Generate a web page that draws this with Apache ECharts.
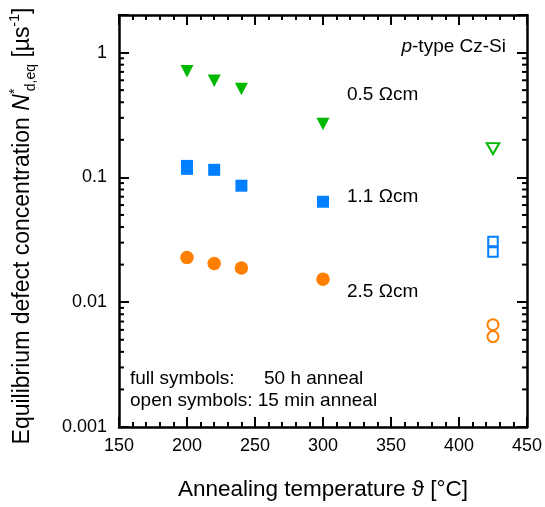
<!DOCTYPE html>
<html>
<head>
<meta charset="utf-8">
<script src="https://cdn.jsdelivr.net/npm/echarts@6/dist/echarts.min.js"></script>
<style>
  html, body { margin: 0; padding: 0; background: #fff; }
  #chart { width: 545px; height: 507px; }
</style>
</head>
<body>
<div id="chart"></div>
<script>
const FONT = '"Liberation Sans", Arial, Helvetica, sans-serif';

// Annealing temperatures [°C]
const tempsFull = [200, 220, 240, 300];
const tempsFull11 = [200, 200, 220, 240, 300];
const tempOpen = 425;

// Equilibrium defect concentration [1/µs], 50 h anneal (full) and 15 min anneal (open)
const full05 = [0.709, 0.595, 0.510, 0.268];
const open05 = [0.170];
const full11 = [0.1236, 0.117, 0.115, 0.0858, 0.0638];
const open11 = [0.0306, 0.0252];
const full25 = [0.0228, 0.0204, 0.0188, 0.0153];
const open25 = [0.0066, 0.0053];

// Axis ranges and tick marks
const xMin = 150, xMax = 450, xStep = 50;
const yMin = 0.001, yMax = 2;
const yDecades = [0.001, 0.01, 0.1, 1];
const minorMultipliers = [2, 3, 4, 5, 6, 7, 8, 9];

const GREEN = '#00b800';
const BLUE = '#0080ff';
const ORANGE = '#ff8000';
const BLACK = '#000';

// log-decade minor tick values inside the y range
const yMinorTicks = [];
yDecades.forEach(d => minorMultipliers.forEach(m => {
  const v = +(d * m).toPrecision(6);
  if (v < yMax) yMinorTicks.push(v);
}));

const pts = (xs, ys) => ys.map((y, i) => [Array.isArray(xs) ? xs[i] : xs, y]);

const axisLine = { show: true, onZero: false, lineStyle: { color: BLACK, width: 2.5 } };
const majorTick = { show: true, inside: true, length: 10, lineStyle: { color: BLACK, width: 2 } };

const xAxisBase = {
  type: 'value', min: xMin, max: xMax, interval: xStep,
  axisLine: axisLine,
  axisTick: majorTick,
  minorTick: { show: true, splitNumber: 5, length: 5, lineStyle: { color: BLACK, width: 2 } },
  splitLine: { show: false },
  minorSplitLine: { show: false }
};

const logLabel = v => {
  const e = Math.log10(v);
  if (Math.abs(e - Math.round(e)) > 1e-6) return '';
  return String(+Math.pow(10, Math.round(e)).toPrecision(6));
};

const yAxisBase = {
  type: 'log', logBase: 10, min: yMin, max: yMax,
  axisLine: axisLine,
  axisTick: majorTick,
  splitLine: { show: false }
};

const chart = echarts.init(document.getElementById('chart'), null, { renderer: 'canvas' });

chart.setOption({
  animation: false,
  backgroundColor: '#fff',
  grid: { left: 117, right: 14, top: 15, bottom: 80, containLabel: false },
  xAxis: [
    Object.assign({}, xAxisBase, {
      position: 'bottom',
      axisLabel: { color: BLACK, fontSize: 18, fontFamily: FONT, margin: 10 },
      name: 'Annealing temperature \u03D1 [°C]',
      nameLocation: 'middle',
      nameGap: 51,
      nameTextStyle: { color: BLACK, fontSize: 22.5, fontFamily: FONT }
    }),
    Object.assign({}, xAxisBase, { position: 'top', axisLabel: { show: false } })
  ],
  yAxis: [
    Object.assign({}, yAxisBase, {
      position: 'left',
      axisLabel: { color: BLACK, fontSize: 18, fontFamily: FONT, margin: 12, formatter: logLabel },
      name: '{t|Equilibrium defect concentration }{i|N}{s0|*}{sub|d,eq}{t| [µs}{sup|-1}{t|]}',
      nameLocation: 'middle',
      nameRotate: 90,
      nameGap: 81,
      nameTextStyle: {
        color: BLACK, fontSize: 23, fontFamily: FONT, padding: [0, 10, 0, 0],
        rich: {
          t: { fontSize: 23, fontFamily: FONT, color: BLACK, lineHeight: 30 },
          i: { fontSize: 23, fontFamily: FONT, color: BLACK, fontStyle: 'italic', lineHeight: 30 },
          s0: { fontSize: 14, fontFamily: FONT, color: BLACK, verticalAlign: 'top', width: 0, lineHeight: 16, padding: [0, 0, 0, 3] },
          sup: { fontSize: 14, fontFamily: FONT, color: BLACK, verticalAlign: 'top', lineHeight: 16 },
          sub: { fontSize: 14, fontFamily: FONT, color: BLACK, verticalAlign: 'bottom', lineHeight: 16 }
        }
      }
    }),
    Object.assign({}, yAxisBase, { position: 'right', axisLabel: { show: false } })
  ],
  series: [
    {
      // logarithmic minor ticks on the left and right frame edges
      type: 'custom',
      silent: true,
      xAxisIndex: 0, yAxisIndex: 0,
      data: yMinorTicks.map(v => [xMin, v]),
      renderItem: function (params, api) {
        const v = api.value(1);
        const l = api.coord([xMin, v]);
        const r = api.coord([xMax, v]);
        const st = { stroke: BLACK, lineWidth: 2 };
        return {
          type: 'group',
          children: [
            { type: 'line', shape: { x1: l[0], y1: l[1], x2: l[0] + 5, y2: l[1] }, style: st },
            { type: 'line', shape: { x1: r[0] - 5, y1: r[1], x2: r[0], y2: r[1] }, style: st }
          ]
        };
      },
      z: 3
    },
    { name: '0.5 Ωcm, 50 h', type: 'scatter', data: pts(tempsFull, full05),
      symbol: 'triangle', symbolRotate: 180, symbolSize: [13, 12.5],
      itemStyle: { color: GREEN, opacity: 1 } },
    { name: '0.5 Ωcm, 15 min', type: 'scatter', data: pts(tempOpen, open05),
      symbol: 'emptyTriangle', symbolRotate: 180, symbolSize: [12.5, 11],
      itemStyle: { color: GREEN, borderColor: GREEN, borderWidth: 3, opacity: 1 } },
    { name: '1.1 Ωcm, 50 h', type: 'scatter', data: pts(tempsFull11, full11),
      symbol: 'rect', symbolSize: 12,
      itemStyle: { color: BLUE, opacity: 1 } },
    { name: '1.1 Ωcm, 15 min', type: 'scatter', data: pts(tempOpen, open11),
      symbol: 'emptyRect', symbolSize: 9.5,
      itemStyle: { color: BLUE, borderColor: BLUE, borderWidth: 2.5, opacity: 1 } },
    { name: '2.5 Ωcm, 50 h', type: 'scatter', data: pts(tempsFull, full25),
      symbol: 'circle', symbolSize: 13.5,
      itemStyle: { color: ORANGE, opacity: 1 } },
    { name: '2.5 Ωcm, 15 min', type: 'scatter', data: pts(tempOpen, open25),
      symbol: 'emptyCircle', symbolSize: 11,
      itemStyle: { color: ORANGE, borderColor: ORANGE, borderWidth: 2.5, opacity: 1 } }
  ],
  graphic: [
    { type: 'text', right: 39, top: 37,
      style: { text: '{i|p}-type Cz-Si', fill: BLACK, font: '19px ' + FONT,
        rich: { i: { fontStyle: 'italic', fontSize: 19, fontFamily: FONT } } } },
    { type: 'text', x: 347, y: 95,
      style: { text: '0.5 Ωcm', fill: BLACK, fontSize: 19, fontFamily: FONT, verticalAlign: 'middle' } },
    { type: 'text', x: 347, y: 197,
      style: { text: '1.1 Ωcm', fill: BLACK, fontSize: 19, fontFamily: FONT, verticalAlign: 'middle' } },
    { type: 'text', x: 347, y: 292,
      style: { text: '2.5 Ωcm', fill: BLACK, fontSize: 19, fontFamily: FONT, verticalAlign: 'middle' } },
    { type: 'text', x: 130, y: 379,
      style: { text: 'full symbols:', fill: BLACK, fontSize: 19, fontFamily: FONT, verticalAlign: 'middle' } },
    { type: 'text', x: 264, y: 379,
      style: { text: '50 h anneal', fill: BLACK, fontSize: 19, fontFamily: FONT, verticalAlign: 'middle' } },
    { type: 'text', x: 130, y: 401,
      style: { text: 'open symbols: 15 min anneal', fill: BLACK, fontSize: 19, fontFamily: FONT, verticalAlign: 'middle' } }
  ]
});
</script>
</body>
</html>
